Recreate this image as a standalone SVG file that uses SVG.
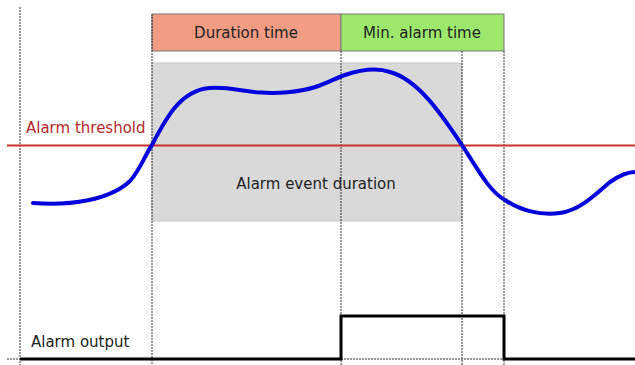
<svg xmlns="http://www.w3.org/2000/svg" width="635" height="365" viewBox="0 0 635 365">
<style>
.t{font-family:"DejaVu Sans",sans-serif;font-size:15px;fill:#222}
.dot{stroke:#333;stroke-width:1;stroke-dasharray:2,1;fill:none}
.box{stroke:#777;stroke-width:1}
</style>
<rect width="635" height="365" fill="#fff"/>
<g id="event">
<rect x="152" y="63" width="310" height="158" fill="#d9d9d9" stroke="#c4c4c4" stroke-width="1"/>
<text class="t" x="316" y="189" text-anchor="middle">Alarm event duration</text>
</g>
<g id="duration">
<rect class="box" x="152" y="14" width="189" height="37" fill="#f29c84"/>
<text class="t" x="246" y="38" text-anchor="middle">Duration time</text>
</g>
<g id="minalarm">
<rect class="box" x="341" y="14" width="163" height="37" fill="#9de86c"/>
<text class="t" x="422" y="38" text-anchor="middle">Min. alarm time</text>
</g>
<g id="connectors">
<line class="dot" x1="20" y1="7" x2="20" y2="365"/>
<line class="dot" x1="152" y1="14" x2="152" y2="365"/>
<line class="dot" x1="341" y1="51" x2="341" y2="365"/>
<line class="dot" x1="462" y1="51" x2="462" y2="365"/>
<line class="dot" x1="504" y1="51" x2="504" y2="365"/>
<line class="dot" x1="7" y1="359" x2="20" y2="359"/>
<line class="dot" x1="341" y1="359" x2="504" y2="359"/>
<line x1="7" y1="145.5" x2="635" y2="145.5" stroke="#c8302c" stroke-width="2"/>
<path d="M33,203 C70,206 110,200 130,181 C140,170 145,155 152,145 C165,120 180,90 210,88 C235,86 250,96 290,92 C320,89 330,80 345,75 C360,70 375,67 390,72 C420,80 445,120 462,145 C478,170 490,192 505,200 C520,210 540,216 560,213 C580,210 595,195 610,182 C620,175 628,172 635,172" fill="none" stroke="#0000dd" stroke-width="4" stroke-linecap="round"/>
<path d="M20,359 H341 V316 H504 V359 H635" fill="none" stroke="#000" stroke-width="3"/>
</g>
<g id="labels">
<text class="t" x="26" y="133" style="fill:#b8262a">Alarm threshold</text>
<text class="t" x="31" y="347">Alarm output</text>
</g>
</svg>
